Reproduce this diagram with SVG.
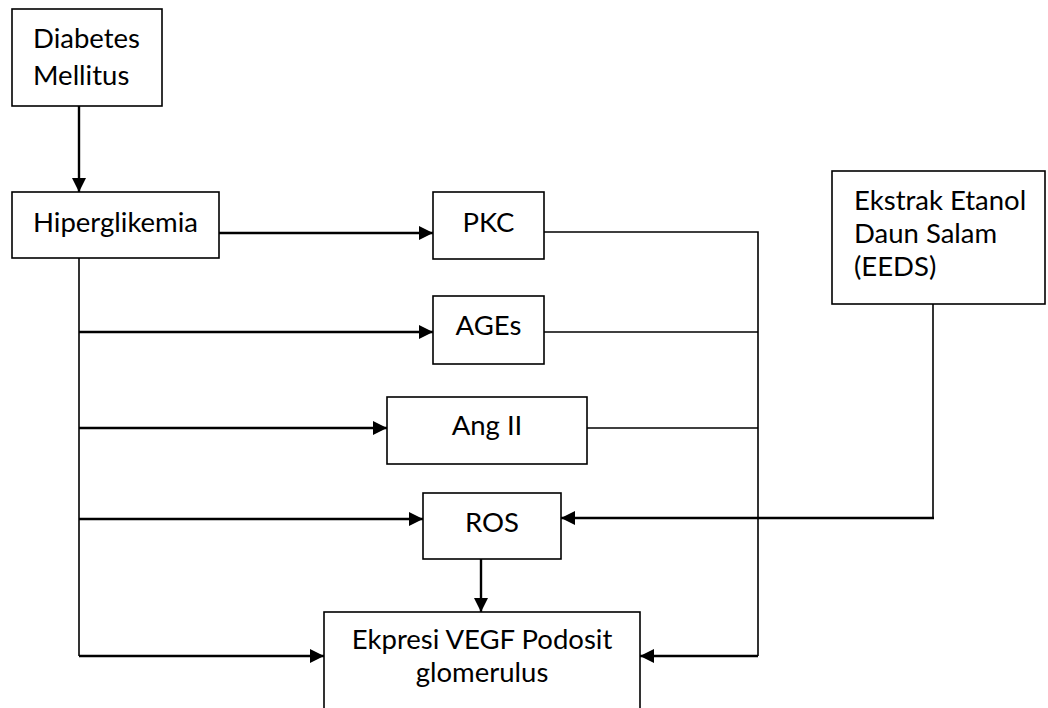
<svg xmlns="http://www.w3.org/2000/svg" width="1048" height="708" viewBox="0 0 1048 708">
<style>
.box{fill:#fff;stroke:#000;stroke-width:1.6}
.t{font-family:Lato,"Open Sans",sans-serif;font-size:27.5px;fill:#000}
.m{text-anchor:middle}
.a{fill:none;stroke:#000;stroke-width:2.4}
.l{fill:none;stroke:#000;stroke-width:1.6}
</style>
<defs>
<marker id="ah" viewBox="0 0 14 14" refX="14" refY="7" markerWidth="14" markerHeight="14" markerUnits="userSpaceOnUse" orient="auto">
<path d="M0,0 L14,7 L0,14 Z" fill="#000"/>
</marker>
</defs>
<rect width="1048" height="708" fill="#fff"/>
<g id="connectors">
<line class="a" x1="79" y1="106" x2="79" y2="192" marker-end="url(#ah)"/>
<line class="a" x1="219" y1="233" x2="433" y2="233" marker-end="url(#ah)"/>
<line class="l" x1="79" y1="258" x2="79" y2="656"/>
<line class="a" x1="79" y1="332" x2="433" y2="332" marker-end="url(#ah)"/>
<line class="a" x1="79" y1="428" x2="387" y2="428" marker-end="url(#ah)"/>
<line class="a" x1="79" y1="519" x2="423" y2="519" marker-end="url(#ah)"/>
<line class="a" x1="79" y1="656" x2="324" y2="656" marker-end="url(#ah)"/>
<line class="a" x1="481" y1="559" x2="481" y2="612" marker-end="url(#ah)"/>
<polyline class="l" points="544,232 758,232 758,656"/>
<line class="l" x1="544" y1="332" x2="758" y2="332"/>
<line class="l" x1="587" y1="428" x2="758" y2="428"/>
<line class="a" x1="758" y1="656" x2="640" y2="656" marker-end="url(#ah)"/>
<line class="l" x1="933" y1="304" x2="933" y2="518"/>
<line class="a" x1="934" y1="518" x2="561" y2="518" marker-end="url(#ah)"/>
</g>
<g id="dm">
<rect class="box" x="12" y="9" width="150" height="97"/>
<text class="t" x="33" y="48">Diabetes</text>
<text class="t" x="33" y="85">Mellitus</text>
</g>
<g id="hiper">
<rect class="box" x="12" y="192" width="207" height="66"/>
<text class="t" x="33" y="232">Hiperglikemia</text>
</g>
<g id="pkc">
<rect class="box" x="433" y="192" width="111" height="67"/>
<text class="t m" x="488.5" y="232">PKC</text>
</g>
<g id="ages">
<rect class="box" x="433" y="296" width="111" height="68"/>
<text class="t m" x="488.5" y="335">AGEs</text>
</g>
<g id="ang">
<rect class="box" x="387" y="397" width="200" height="67"/>
<text class="t m" x="487" y="435">Ang II</text>
</g>
<g id="ros">
<rect class="box" x="423" y="493" width="138" height="66"/>
<text class="t m" x="492" y="532">ROS</text>
</g>
<g id="vegf">
<rect class="box" x="324" y="612" width="316" height="110"/>
<text class="t m" x="482" y="649">Ekpresi VEGF Podosit</text>
<text class="t m" x="482" y="682">glomerulus</text>
</g>
<g id="eeds">
<rect class="box" x="832" y="171" width="213" height="133"/>
<text class="t" x="854" y="210">Ekstrak Etanol</text>
<text class="t" x="854" y="243">Daun Salam</text>
<text class="t" x="854" y="276">(EEDS)</text>
</g>
</svg>
